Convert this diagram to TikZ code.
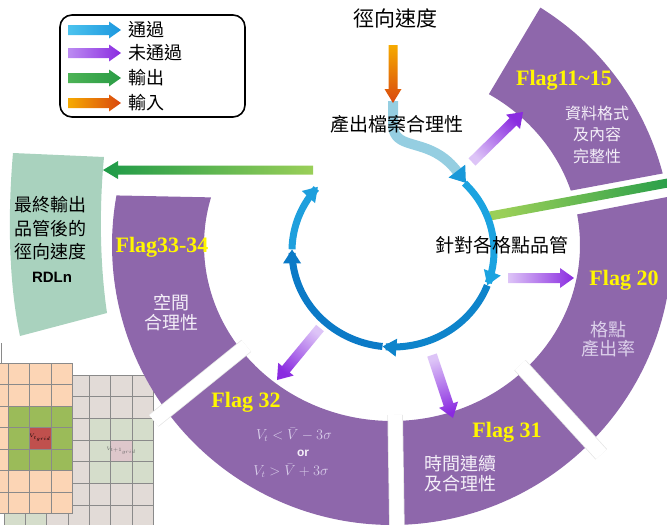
\documentclass[tikz,border=0pt]{standalone}
\usepackage{fontspec}
\setmainfont{Liberation Serif}
\newfontfamily\cjk{Noto Sans CJK TC}
\newfontfamily\lsans{Liberation Sans}
\usetikzlibrary{calc,arrows.meta}
\definecolor{ringpurple}{HTML}{8E67AB}
\definecolor{flagyellow}{HTML}{FFF700}
\definecolor{softwhite}{HTML}{F4EFF8}
\definecolor{softlav}{HTML}{DCD0EA}
\definecolor{mathlav}{HTML}{D9CEEA}
\definecolor{panelgreen}{HTML}{A9D2BE}
\definecolor{gridpeach}{HTML}{FCD5B5}
\definecolor{gridgreen}{HTML}{9BBB59}
\definecolor{gridred}{HTML}{C0504D}
\definecolor{gridgray}{HTML}{E2DBD7}
\definecolor{gridtint}{HTML}{D5DDCB}
\definecolor{gridpink}{HTML}{DEC7CB}
\definecolor{gridline}{HTML}{8A8A8A}
\definecolor{entryblue}{HTML}{95CEE1}
\definecolor{tipblue}{HTML}{1898D9}
\definecolor{blueA}{HTML}{1BA3E0}
\definecolor{blueB}{HTML}{0E84CB}
\definecolor{blueC}{HTML}{0B7AC7}
\definecolor{blueD}{HTML}{1E9FDD}
\definecolor{purtail}{HTML}{DDC4F7}
\definecolor{purtip}{HTML}{8A2BE0}
\definecolor{grnlight}{HTML}{9ACF58}
\definecolor{grndark}{HTML}{1E9A48}
\definecolor{orgtail}{HTML}{F6AA00}
\definecolor{orgtip}{HTML}{D9470F}
\definecolor{legblue1}{HTML}{4CC3EE}
\definecolor{legblue2}{HTML}{1C97DE}
\definecolor{legpur1}{HTML}{BC8CF2}
\definecolor{leggrn1}{HTML}{4DB356}
\definecolor{leggrn2}{HTML}{2A9C45}
% #1 tail, #2 tip, #3 half shaft, #4 half head, #5 head length, #6 tail colour, #7 tip colour, #8 shading angle
\newcommand\fatarrow[8]{%
  \coordinate (faH) at ($(#2)!#5pt!(#1)$);
  \shade[top color=#6,bottom color=#7,shading angle=#8]
    ($(#1)!#3pt!90:(#2)$) -- ($(faH)!#3pt!90:(#2)$) -- ($(faH)!#4pt!90:(#2)$) -- (#2)
    -- ($(faH)!#4pt!-90:(#2)$) -- ($(faH)!#3pt!-90:(#2)$) -- ($(#1)!#3pt!-90:(#2)$) -- cycle;
}
\begin{document}
\begin{tikzpicture}[x=1pt,y=-1pt,
  cjkbig/.style={font=\cjk\fontsize{21}{23}\selectfont, inner sep=0pt},
  cjkmid/.style={font=\cjk\fontsize{19}{21}\selectfont, inner sep=0pt},
  cjkleg/.style={font=\cjk\fontsize{18}{20}\selectfont, inner sep=0pt, anchor=west},
  flagtext/.style={font=\fontsize{22}{24}\selectfont\bfseries, text=flagyellow, inner sep=0pt},
  segtext/.style={font=\cjk\fontsize{18}{20}\selectfont, text=softwhite, align=center, inner sep=0pt},
  mathtext/.style={text=mathlav, font=\fontsize{13.5}{14}\selectfont, inner sep=0pt},
  gridln/.style={draw=gridline, line width=0.7pt},
  sepbar/.style={line width=14pt, white},
  sepedge/.style={line width=15.5pt, black!10},
  ringarr/.style={line width=7pt, -{Triangle[width=17pt,length=14pt]}}
]
\useasboundingbox (0,0) rectangle (667,525);
\clip (0,0) rectangle (667,525);

% ---------- grids (bottom left) ----------
\fill[gridgray] (4,375) rectangle (153.3,530);
\fill[gridtint] (89.3,418.3) rectangle (153.3,483.3);
\fill[gridpink] (110.7,440) rectangle (132,461.7);
\fill[gridtint] (4,505) rectangle (47,530);
\foreach \gx in {4,25.3,46.7,68,89.3,110.7,132,153.3} \draw[gridln] (\gx,375) -- (\gx,530);
\foreach \gy in {375,396.7,418.3,440,461.7,483.3,505} \draw[gridln] (4,\gy) -- (153.3,\gy);
\node[font=\fontsize{4}{4}\selectfont, text=black!60, inner sep=0pt] (vnext) at (121.3,450.8) {$V_{t+1_{grid}}$};
\fill[gridpeach] (-13.5,363) rectangle (72.5,513.5);
\fill[gridgreen] (8,406) rectangle (72.5,470.5);
\fill[gridred] (29.5,427.5) rectangle (51,449);
\foreach \gx in {8,29.5,51,72.5} \draw[gridln] (\gx,363) -- (\gx,513.5);
\foreach \gy in {363,384.5,406,427.5,449,470.5,492,513.5} \draw[gridln] (-13.5,\gy) -- (72.5,\gy);
\node[font=\fontsize{4.5}{4.5}\selectfont, inner sep=0pt] (vcur) at (40.2,438.2) {$V_{t_{grid}}$};
\draw[gridln] (1.5,343) -- (1.5,363);

% ---------- left output panel ----------
\fill[panelgreen] (13,153) -- (104,157) .. controls (99,210) and (100,265) .. (107,313)
  -- (20,336) .. controls (8,280) and (8,210) .. (13,153) -- cycle;
\node[font=\cjk\fontsize{18}{23.5}\selectfont, align=center, inner sep=0pt] (outtxt) at (51,228.5) {最終輸出\\品管後的\\徑向速度};
\node[font=\lsans\bfseries\fontsize{15}{17}\selectfont, inner sep=0pt] (rdln) at (52,277) {RDLn};

% ---------- purple ring ----------
\fill[ringpurple] plot[domain=-9.9:190.2, samples=150] ({392+280*cos(\x)},{245+280*sin(\x)})
  -- plot[domain=0:1, samples=150] ({392+188*cos(195.7-206.1*\x)},{245+176*sin(195.7-206.1*\x)}) -- cycle;
\fill[ringpurple] plot[domain=-58:-14.8, samples=50] ({392+280*cos(\x)},{245+280*sin(\x)})
  -- plot[domain=0:1, samples=50] ({392+188*cos(-18-41*\x)},{245+176*sin(-18-41*\x)}) -- cycle;
\foreach \t in {45,89,143.6} {
  \draw[sepedge] ({392+181*cos(\t)},{245+170*sin(\t)}) -- ({392+296*cos(\t)},{245+296*sin(\t)});
  \draw[sepbar] ({392+181*cos(\t)},{245+170*sin(\t)}) -- ({392+296*cos(\t)},{245+296*sin(\t)});
}

% ---------- green output arrows ----------
\coordinate (gR1) at (490,216);
\coordinate (gR2) at (700,177);
\fatarrow{gR1}{gR2}{4.5}{9}{15}{grnlight}{grndark}{100.6}
\coordinate (gL1) at (313,170);
\coordinate (gL2) at (103,170);
\fatarrow{gL1}{gL2}{4.5}{9}{15}{grnlight}{grndark}{270}

% ---------- input arrow and entry ----------
\coordinate (in1) at (393,45);
\coordinate (in2) at (393,103);
\draw[line width=10pt, entryblue, -{Triangle[width=20pt,length=15pt,color=tipblue]}]
  (393,101) -- (393,124) .. controls (393,146) and (414,141) .. (436,153)
  .. controls (449,160) and (456,170) .. (466,183);
\fatarrow{in1}{in2}{4.5}{8.5}{14}{orgtail}{orgtip}{0}

% ---------- blue cycle ----------
\draw[ringarr, blueA] plot[domain=-45:21, samples=40] ({393+101*cos(\x)},{251+96*sin(\x)});
\draw[ringarr, blueB] plot[domain=21:96, samples=40] ({393+101*cos(\x)},{251+96*sin(\x)});
\draw[ringarr, blueC] plot[domain=96:181, samples=40] ({393+101*cos(\x)},{251+96*sin(\x)});
\draw[ringarr, blueD] plot[domain=181:222, samples=30] ({393+101*cos(\x)},{251+96*sin(\x)});

% ---------- purple (not passed) arrows ----------
\coordinate (p1a) at (472,162); \coordinate (p1b) at (523,112);
\fatarrow{p1a}{p1b}{5}{10}{14}{purtail}{purtip}{134.4}
\coordinate (p2a) at (508,278); \coordinate (p2b) at (574,278);
\fatarrow{p2a}{p2b}{5}{10}{14}{purtail}{purtip}{90}
\coordinate (p3a) at (432,355); \coordinate (p3b) at (453,418);
\fatarrow{p3a}{p3b}{5}{10}{14}{purtail}{purtip}{18.4}
\coordinate (p4a) at (320,328); \coordinate (p4b) at (277,380);
\fatarrow{p4a}{p4b}{5}{10}{14}{purtail}{purtip}{-39.6}

% ---------- texts ----------
\node[cjkbig] (speed) at (395,18) {徑向速度};
\node[cjkmid] (filechk) at (397,124) {產出檔案合理性};
\node[cjkmid] (gridqc) at (502,245) {針對各格點品管};

\node[flagtext] (f1115) at (564,80) {Flag11\textasciitilde15};
\node[font=\cjk\fontsize{16}{21.5}\selectfont, text=softwhite, align=center, inner sep=0pt] (t1115) at (597,134.5) {資料格式\\及內容\\完整性};
\node[flagtext] (f20) at (624,280) {Flag 20};
\node[font=\cjk\fontsize{18}{18.5}\selectfont, text=softlav, align=center, inner sep=0pt] (t20) at (608,339) {格點\\產出率};
\node[flagtext] (f31) at (507,432) {Flag 31};
\node[segtext] (t31) at (460,474) {時間連續\\及合理性};
\node[flagtext] (f32) at (246,402) {Flag 32};
\node[mathtext] (m1) at (294,435) {$V_t < \bar{V} - 3\sigma$};
\node[text=softwhite, font=\lsans\bfseries\fontsize{12}{12}\selectfont, inner sep=0pt] (mor) at (303,453) {or};
\node[mathtext] (m2) at (291,471) {$V_t > \bar{V} + 3\sigma$};
\node[flagtext] (f3334) at (162,247) {Flag33-34};
\node[segtext] (t3334) at (171,313) {空間\\合理性};

% ---------- legend ----------
\node[draw, line width=1.6pt, rounded corners=12pt, minimum width=185pt, minimum height=102pt, inner sep=0pt] (legend) at (152.5,66) {};
\coordinate (l1a) at (68,30);  \coordinate (l1b) at (121,30);
\fatarrow{l1a}{l1b}{5}{8.5}{12}{legblue1}{legblue2}{90}
\coordinate (l2a) at (68,53);  \coordinate (l2b) at (121,53);
\fatarrow{l2a}{l2b}{5}{8.5}{12}{legpur1}{purtip}{90}
\coordinate (l3a) at (68,78);  \coordinate (l3b) at (121,78);
\fatarrow{l3a}{l3b}{5}{8.5}{12}{leggrn1}{leggrn2}{90}
\coordinate (l4a) at (68,103); \coordinate (l4b) at (121,103);
\fatarrow{l4a}{l4b}{5}{8.5}{12}{orgtail}{orgtip}{90}
\node[cjkleg] (lg1) at (128,30) {通過};
\node[cjkleg] (lg2) at (128,53) {未通過};
\node[cjkleg] (lg3) at (128,78) {輸出};
\node[cjkleg] (lg4) at (128,103) {輸入};
\end{tikzpicture}
\end{document}
